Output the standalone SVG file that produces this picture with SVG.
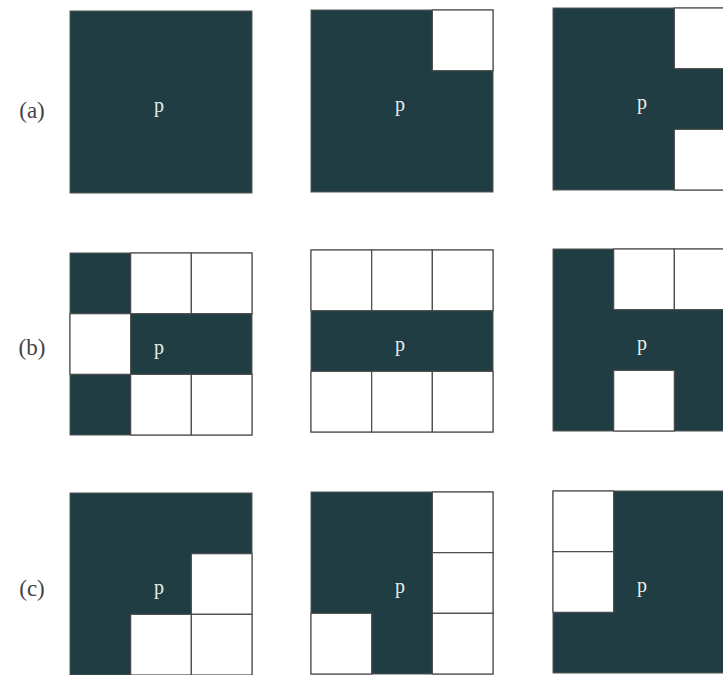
<svg xmlns="http://www.w3.org/2000/svg" width="723" height="675" viewBox="0 0 723 675">
<defs>
<style>
.bg{fill:#1f3d42;stroke:#555;stroke-width:1}
.w{fill:#ffffff;stroke:#4a4a4a;stroke-width:1.2}
.p{font-family:"Liberation Serif",serif;font-size:20px;fill:#e8ecec;text-anchor:middle}
.lbl{font-family:"Liberation Serif",serif;font-size:23px;fill:#444;text-anchor:middle}
</style>
</defs>
<rect width="723" height="675" fill="#ffffff"/>
<text class="lbl" x="32" y="118">(a)</text>
<text class="lbl" x="32" y="355">(b)</text>
<text class="lbl" x="32" y="596">(c)</text>

<g id="a1" transform="translate(70,11)">
<rect class="bg" x="0" y="0" width="182" height="182"/>
<text class="p" x="89" y="101">p</text>
</g>
<g id="a2" transform="translate(311,10)">
<rect class="bg" x="0" y="0" width="182" height="182"/>
<rect class="w" x="121.33" y="0" width="60.67" height="60.67"/>
<text class="p" x="89" y="101">p</text>
</g>
<g id="a3" transform="translate(553,8)">
<rect class="bg" x="0" y="0" width="182" height="182"/>
<rect class="w" x="121.33" y="0" width="60.67" height="60.67"/>
<rect class="w" x="121.33" y="121.33" width="60.67" height="60.67"/>
<text class="p" x="89" y="101">p</text>
</g>

<g id="b1" transform="translate(70,253)">
<rect class="bg" x="0" y="0" width="182" height="182"/>
<rect class="w" x="60.67" y="0" width="60.67" height="60.67"/>
<rect class="w" x="121.33" y="0" width="60.67" height="60.67"/>
<rect class="w" x="0" y="60.67" width="60.67" height="60.67"/>
<rect class="w" x="60.67" y="121.33" width="60.67" height="60.67"/>
<rect class="w" x="121.33" y="121.33" width="60.67" height="60.67"/>
<text class="p" x="89" y="101">p</text>
</g>
<g id="b2" transform="translate(311,250)">
<rect class="bg" x="0" y="0" width="182" height="182"/>
<rect class="w" x="0" y="0" width="60.67" height="60.67"/>
<rect class="w" x="60.67" y="0" width="60.67" height="60.67"/>
<rect class="w" x="121.33" y="0" width="60.67" height="60.67"/>
<rect class="w" x="0" y="121.33" width="60.67" height="60.67"/>
<rect class="w" x="60.67" y="121.33" width="60.67" height="60.67"/>
<rect class="w" x="121.33" y="121.33" width="60.67" height="60.67"/>
<text class="p" x="89" y="101">p</text>
</g>
<g id="b3" transform="translate(553,249)">
<rect class="bg" x="0" y="0" width="182" height="182"/>
<rect class="w" x="60.67" y="0" width="60.67" height="60.67"/>
<rect class="w" x="121.33" y="0" width="60.67" height="60.67"/>
<rect class="w" x="60.67" y="121.33" width="60.67" height="60.67"/>
<text class="p" x="89" y="101">p</text>
</g>

<g id="c1" transform="translate(70,493)">
<rect class="bg" x="0" y="0" width="182" height="182"/>
<rect class="w" x="121.33" y="60.67" width="60.67" height="60.67"/>
<rect class="w" x="60.67" y="121.33" width="60.67" height="60.67"/>
<rect class="w" x="121.33" y="121.33" width="60.67" height="60.67"/>
<text class="p" x="89" y="101">p</text>
</g>
<g id="c2" transform="translate(311,492)">
<rect class="bg" x="0" y="0" width="182" height="182"/>
<rect class="w" x="121.33" y="0" width="60.67" height="60.67"/>
<rect class="w" x="121.33" y="60.67" width="60.67" height="60.67"/>
<rect class="w" x="121.33" y="121.33" width="60.67" height="60.67"/>
<rect class="w" x="0" y="121.33" width="60.67" height="60.67"/>
<text class="p" x="89" y="101">p</text>
</g>
<g id="c3" transform="translate(553,491)">
<rect class="bg" x="0" y="0" width="182" height="182"/>
<rect class="w" x="0" y="0" width="60.67" height="60.67"/>
<rect class="w" x="0" y="60.67" width="60.67" height="60.67"/>
<text class="p" x="89" y="101">p</text>
</g>
</svg>
